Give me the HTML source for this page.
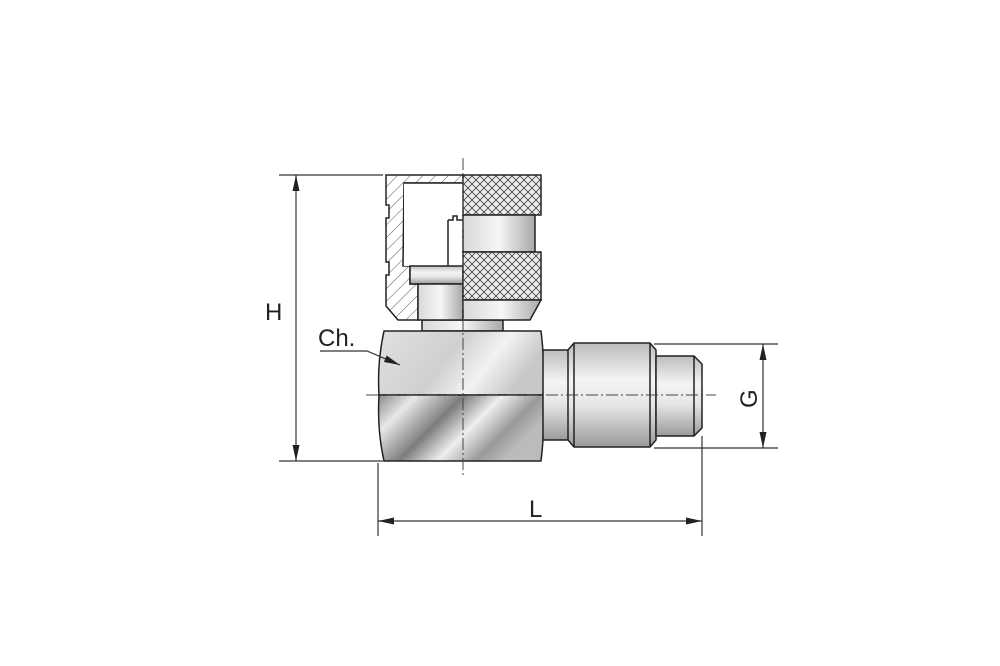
<!DOCTYPE html>
<html><head><meta charset="utf-8"><style>
html,body{margin:0;padding:0;background:#fff;}
svg{display:block}
text{font-family:"Liberation Sans",sans-serif;fill:#222}
</style></head><body>
<svg width="1000" height="666" viewBox="0 0 1000 666" xmlns="http://www.w3.org/2000/svg">
<defs>
<linearGradient id="gv" x1="0" y1="0" x2="0" y2="1">
<stop offset="0" stop-color="#bdbdbd"/><stop offset="0.35" stop-color="#f4f4f4"/><stop offset="0.6" stop-color="#e6e6e6"/><stop offset="1" stop-color="#9a9a9a"/></linearGradient>
<linearGradient id="gtop" x1="0" y1="0" x2="1" y2="0.3">
<stop offset="0" stop-color="#e0e0e0"/><stop offset="0.5" stop-color="#d0d0d0"/><stop offset="0.75" stop-color="#f2f2f2"/><stop offset="1" stop-color="#c8c8c8"/></linearGradient>
<linearGradient id="gbot" x1="0" y1="0" x2="1" y2="0.4">
<stop offset="0" stop-color="#8a8a8a"/><stop offset="0.2" stop-color="#e8e8e8"/><stop offset="0.45" stop-color="#7d7d7d"/><stop offset="0.65" stop-color="#eeeeee"/><stop offset="0.85" stop-color="#9a9a9a"/><stop offset="1" stop-color="#bbbbbb"/></linearGradient>
<linearGradient id="gh" x1="0" y1="0" x2="1" y2="0">
<stop offset="0" stop-color="#d8d8d8"/><stop offset="0.5" stop-color="#f6f6f6"/><stop offset="1" stop-color="#a8a8a8"/></linearGradient>
<pattern id="knurl" width="8" height="8" patternUnits="userSpaceOnUse">
<rect width="8" height="8" fill="#ececec"/>
<path d="M0 0L8 8M8 0L0 8" stroke="#444" stroke-width="0.8"/></pattern>
<pattern id="hatch" width="9" height="9" patternUnits="userSpaceOnUse" patternTransform="rotate(-45)">
<rect width="9" height="9" fill="#fff"/><line x1="0" y1="0" x2="9" y2="0" stroke="#444" stroke-width="0.9"/></pattern>
<marker id="ar" viewBox="0 0 16 8" refX="16" refY="4" markerWidth="16" markerHeight="8" orient="auto-start-reverse" markerUnits="userSpaceOnUse">
<path d="M0 0.5L16 4L0 7.5Z" fill="#222"/></marker>
</defs>

<g stroke="#222" stroke-width="1.5">
<rect x="422" y="320" width="81" height="11" fill="url(#gh)"/>
<path d="M386 175H463V183H404L403 266H410V284H418V320H398L386 306V275H389V262H386V218H389V205H386Z" fill="url(#hatch)"/>
<rect x="404" y="183" width="59" height="83" fill="#fff" stroke="none"/>
<path d="M404 183H463" />
<rect x="410" y="266" width="53" height="18" fill="url(#gv)"/>
<rect x="418" y="284" width="45" height="36" fill="url(#gh)"/>
<line x1="448" y1="220" x2="448" y2="266"/>
<path d="M448 220h5v-4h4v4h6" fill="none"/>
<rect x="463" y="175" width="78" height="40" fill="url(#knurl)"/>
<rect x="463" y="215" width="72" height="37" fill="url(#gh)"/>
<rect x="463" y="252" width="78" height="48" fill="url(#knurl)"/>
<path d="M463 300H541L530 320H463Z" fill="url(#gh)"/>
<path d="M384 331H541Q545 363 543 395H379Q377 363 384 331Z" fill="url(#gtop)"/>
<path d="M379 395H543Q545 430 541 461H384Q377 430 379 395Z" fill="url(#gbot)"/>
<rect x="543" y="350" width="26" height="90" fill="url(#gv)"/>
<path d="M574 343H650L656 350V440L650 447H574L568 440V350Z" fill="url(#gv)"/>
<line x1="574" y1="343" x2="574" y2="447"/><line x1="650" y1="343" x2="650" y2="447"/>
<path d="M656 356H694L702 364V428L694 436H656Z" fill="url(#gv)"/>
<line x1="694" y1="356" x2="694" y2="436"/>
</g>

<g stroke="#444" stroke-width="1" stroke-dasharray="12 3 2 3">
<line x1="463" y1="158" x2="463" y2="478"/>
<line x1="366" y1="395" x2="716" y2="395"/>
</g>

<g stroke="#333" stroke-width="1.2" fill="none">
<line x1="279" y1="175" x2="383" y2="175"/>
<line x1="279" y1="461" x2="383" y2="461"/>
<line x1="296" y1="175" x2="296" y2="461" marker-start="url(#ar)" marker-end="url(#ar)"/>
<line x1="378" y1="463" x2="378" y2="536"/>
<line x1="702" y1="436" x2="702" y2="536"/>
<line x1="378" y1="521" x2="702" y2="521" marker-start="url(#ar)" marker-end="url(#ar)"/>
<line x1="654" y1="344" x2="778" y2="344"/>
<line x1="654" y1="448" x2="778" y2="448"/>
<line x1="763" y1="344" x2="763" y2="448" marker-start="url(#ar)" marker-end="url(#ar)"/>
<polyline points="320,351 367,351 400,365" marker-end="url(#ar)"/>
</g>
<text x="265" y="320" font-size="24">H</text>
<text x="318" y="346" font-size="24">Ch.</text>
<text x="529" y="517" font-size="24">L</text>
<text x="0" y="0" font-size="24" transform="translate(757,408) rotate(-90)">G</text>
</svg>
</body></html>
